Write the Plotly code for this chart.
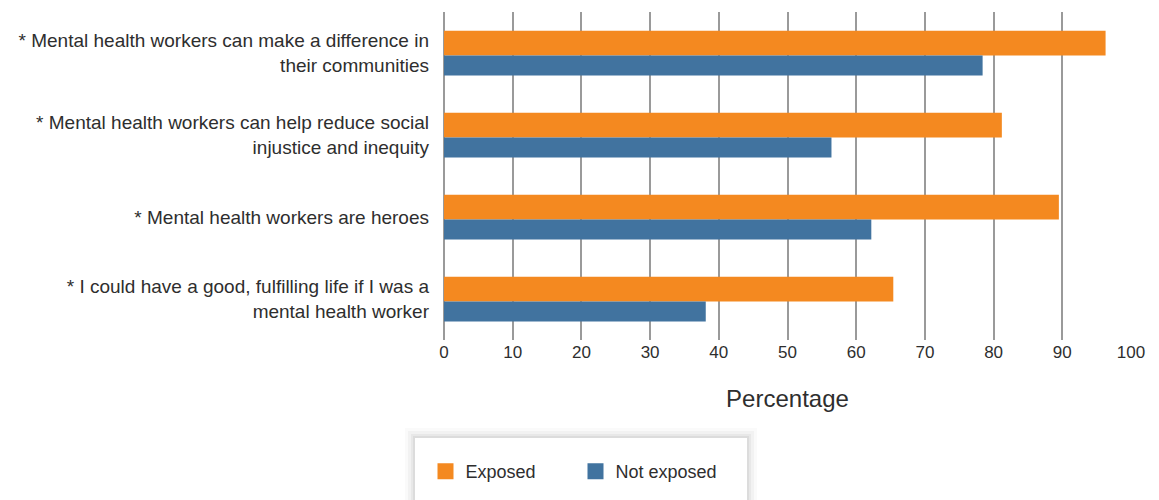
import plotly.graph_objects as go

categories = [
    "* Mental health workers can make a difference in<br>their communities",
    "* Mental health workers can help reduce social<br>injustice and inequity",
    "* Mental health workers are heroes",
    "* I could have a good, fulfilling life if I was a<br>mental health worker",
]
exposed = [96.3, 81.2, 89.5, 65.4]
not_exposed = [78.4, 56.4, 62.2, 38.1]
x_ticks = list(range(0, 101, 10))
series_names = ["Exposed", "Not exposed"]

ORANGE = "#F48920"
BLUE = "#41739F"
FONT = "Liberation Sans, Arial, sans-serif"
TXT = "#2e2e2e"

fig = go.Figure()
fig.add_trace(go.Bar(
    y=categories, x=exposed, orientation="h", name=series_names[0],
    marker=dict(color=ORANGE, line=dict(width=0)),
    width=0.30, offset=-0.27, showlegend=False,
))
fig.add_trace(go.Bar(
    y=categories, x=not_exposed, orientation="h", name=series_names[1],
    marker=dict(color=BLUE, line=dict(width=0)),
    width=0.245, offset=0.03, showlegend=False,
))
# legend entries with square swatches
for nm, col in zip(series_names, [ORANGE, BLUE]):
    fig.add_trace(go.Scatter(
        x=[None], y=[None], mode="markers", name=nm,
        marker=dict(symbol="square", size=20, color=col),
        showlegend=True, hoverinfo="skip",
    ))

# page -> paper helpers (plot area: left 444, width 687, top 12, height 328)
def px_x(p):
    return (p - 444) / 687

def px_y(p):
    return (340 - p) / 328

# legend box with soft shadow
for pad, col in [(10, "rgba(0,0,0,0.02)"), (7, "rgba(0,0,0,0.03)"), (4, "rgba(0,0,0,0.04)"), (2, "rgba(0,0,0,0.05)")]:
    fig.add_shape(type="rect", xref="paper", yref="paper",
                  x0=px_x(415 - pad), x1=px_x(747 + pad),
                  y0=px_y(530), y1=px_y(438 - pad),
                  fillcolor=col, line=dict(width=0), layer="below")
fig.add_shape(type="rect", xref="paper", yref="paper",
              x0=px_x(415), x1=px_x(747), y0=px_y(530), y1=px_y(438),
              fillcolor="white", line=dict(width=0), layer="below")

fig.update_layout(
    width=1151, height=492,
    margin=dict(l=436, r=28, t=4, b=160),
    barmode="overlay",
    plot_bgcolor="white", paper_bgcolor="white",
    font=dict(family=FONT, size=18, color=TXT),
    showlegend=True,
    legend=dict(
        orientation="h", x=px_x(425.5), xanchor="left",
        y=px_y(453), yanchor="top",
        bgcolor="rgba(0,0,0,0)", font=dict(size=18, color=TXT),
        entrywidth=105, entrywidthmode="pixels",
        traceorder="normal", itemsizing="trace",
    ),
    xaxis=dict(
        range=[0, 100], tickvals=x_ticks, ticktext=[str(t) for t in x_ticks],
        showgrid=True, gridcolor="#9a9a9a", gridwidth=1.5,
        zeroline=True, zerolinecolor="#9a9a9a", zerolinewidth=1.5,
        showline=False, ticks="",
        tickfont=dict(size=17, color=TXT),
        title=dict(text="Percentage", font=dict(size=24, color=TXT), standoff=29),
        fixedrange=True,
    ),
    yaxis=dict(
        type="category", autorange="reversed", showgrid=False,
        ticks="", ticklabelstandoff=14,
        tickfont=dict(size=19, color=TXT),
        fixedrange=True,
    ),
)

fig.write_html("out.html")
